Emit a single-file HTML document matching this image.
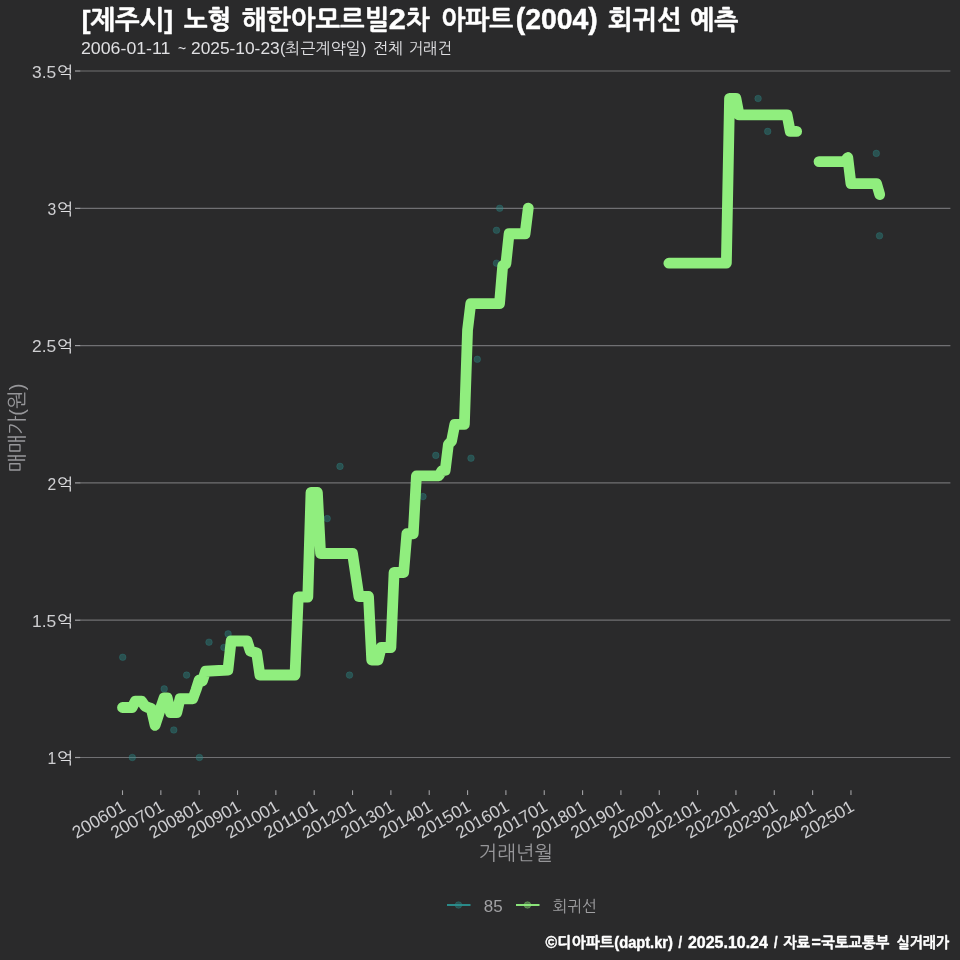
<!DOCTYPE html>
<html lang="ko"><head><meta charset="utf-8"><title>chart</title>
<style>
html,body{margin:0;padding:0;background:#2a2a2b;}
body{width:960px;height:960px;overflow:hidden;}
svg{display:block}
text{font-family:"Liberation Sans","NanumGothic","Noto Sans CJK KR",sans-serif;white-space:pre}
</style></head><body>
<svg width="960" height="960" viewBox="0 0 960 960">
<rect width="960" height="960" fill="#2a2a2b"/>

<line x1="80" x2="950.4" y1="71.00" y2="71.00" stroke="#707073" stroke-width="1.2"/>
<line x1="75" x2="80.2" y1="71.00" y2="71.00" stroke="#a0a0a3" stroke-width="1.2"/>
<line x1="80" x2="950.4" y1="208.35" y2="208.35" stroke="#707073" stroke-width="1.2"/>
<line x1="75" x2="80.2" y1="208.35" y2="208.35" stroke="#a0a0a3" stroke-width="1.2"/>
<line x1="80" x2="950.4" y1="345.60" y2="345.60" stroke="#707073" stroke-width="1.2"/>
<line x1="75" x2="80.2" y1="345.60" y2="345.60" stroke="#a0a0a3" stroke-width="1.2"/>
<line x1="80" x2="950.4" y1="482.90" y2="482.90" stroke="#707073" stroke-width="1.2"/>
<line x1="75" x2="80.2" y1="482.90" y2="482.90" stroke="#a0a0a3" stroke-width="1.2"/>
<line x1="80" x2="950.4" y1="620.20" y2="620.20" stroke="#707073" stroke-width="1.2"/>
<line x1="75" x2="80.2" y1="620.20" y2="620.20" stroke="#a0a0a3" stroke-width="1.2"/>
<line x1="80" x2="950.4" y1="757.50" y2="757.50" stroke="#707073" stroke-width="1.2"/>
<line x1="75" x2="80.2" y1="757.50" y2="757.50" stroke="#a0a0a3" stroke-width="1.2"/>
<line x1="122.50" x2="122.50" y1="790.3" y2="795" stroke="#a0a0a3" stroke-width="1.1"/>
<text transform="translate(127.00,809.8) rotate(-30)" text-anchor="end" font-size="17.4" fill="#e0e0e3" fill-opacity="0.9" textLength="58.2" lengthAdjust="spacingAndGlyphs">200601</text>
<line x1="160.84" x2="160.84" y1="790.3" y2="795" stroke="#a0a0a3" stroke-width="1.1"/>
<text transform="translate(165.34,809.8) rotate(-30)" text-anchor="end" font-size="17.4" fill="#e0e0e3" fill-opacity="0.9" textLength="58.2" lengthAdjust="spacingAndGlyphs">200701</text>
<line x1="199.18" x2="199.18" y1="790.3" y2="795" stroke="#a0a0a3" stroke-width="1.1"/>
<text transform="translate(203.68,809.8) rotate(-30)" text-anchor="end" font-size="17.4" fill="#e0e0e3" fill-opacity="0.9" textLength="58.2" lengthAdjust="spacingAndGlyphs">200801</text>
<line x1="237.52" x2="237.52" y1="790.3" y2="795" stroke="#a0a0a3" stroke-width="1.1"/>
<text transform="translate(242.02,809.8) rotate(-30)" text-anchor="end" font-size="17.4" fill="#e0e0e3" fill-opacity="0.9" textLength="58.2" lengthAdjust="spacingAndGlyphs">200901</text>
<line x1="275.86" x2="275.86" y1="790.3" y2="795" stroke="#a0a0a3" stroke-width="1.1"/>
<text transform="translate(280.36,809.8) rotate(-30)" text-anchor="end" font-size="17.4" fill="#e0e0e3" fill-opacity="0.9" textLength="58.2" lengthAdjust="spacingAndGlyphs">201001</text>
<line x1="314.20" x2="314.20" y1="790.3" y2="795" stroke="#a0a0a3" stroke-width="1.1"/>
<text transform="translate(318.70,809.8) rotate(-30)" text-anchor="end" font-size="17.4" fill="#e0e0e3" fill-opacity="0.9" textLength="58.2" lengthAdjust="spacingAndGlyphs">201101</text>
<line x1="352.54" x2="352.54" y1="790.3" y2="795" stroke="#a0a0a3" stroke-width="1.1"/>
<text transform="translate(357.04,809.8) rotate(-30)" text-anchor="end" font-size="17.4" fill="#e0e0e3" fill-opacity="0.9" textLength="58.2" lengthAdjust="spacingAndGlyphs">201201</text>
<line x1="390.88" x2="390.88" y1="790.3" y2="795" stroke="#a0a0a3" stroke-width="1.1"/>
<text transform="translate(395.38,809.8) rotate(-30)" text-anchor="end" font-size="17.4" fill="#e0e0e3" fill-opacity="0.9" textLength="58.2" lengthAdjust="spacingAndGlyphs">201301</text>
<line x1="429.22" x2="429.22" y1="790.3" y2="795" stroke="#a0a0a3" stroke-width="1.1"/>
<text transform="translate(433.72,809.8) rotate(-30)" text-anchor="end" font-size="17.4" fill="#e0e0e3" fill-opacity="0.9" textLength="58.2" lengthAdjust="spacingAndGlyphs">201401</text>
<line x1="467.56" x2="467.56" y1="790.3" y2="795" stroke="#a0a0a3" stroke-width="1.1"/>
<text transform="translate(472.06,809.8) rotate(-30)" text-anchor="end" font-size="17.4" fill="#e0e0e3" fill-opacity="0.9" textLength="58.2" lengthAdjust="spacingAndGlyphs">201501</text>
<line x1="505.90" x2="505.90" y1="790.3" y2="795" stroke="#a0a0a3" stroke-width="1.1"/>
<text transform="translate(510.40,809.8) rotate(-30)" text-anchor="end" font-size="17.4" fill="#e0e0e3" fill-opacity="0.9" textLength="58.2" lengthAdjust="spacingAndGlyphs">201601</text>
<line x1="544.24" x2="544.24" y1="790.3" y2="795" stroke="#a0a0a3" stroke-width="1.1"/>
<text transform="translate(548.74,809.8) rotate(-30)" text-anchor="end" font-size="17.4" fill="#e0e0e3" fill-opacity="0.9" textLength="58.2" lengthAdjust="spacingAndGlyphs">201701</text>
<line x1="582.58" x2="582.58" y1="790.3" y2="795" stroke="#a0a0a3" stroke-width="1.1"/>
<text transform="translate(587.08,809.8) rotate(-30)" text-anchor="end" font-size="17.4" fill="#e0e0e3" fill-opacity="0.9" textLength="58.2" lengthAdjust="spacingAndGlyphs">201801</text>
<line x1="620.92" x2="620.92" y1="790.3" y2="795" stroke="#a0a0a3" stroke-width="1.1"/>
<text transform="translate(625.42,809.8) rotate(-30)" text-anchor="end" font-size="17.4" fill="#e0e0e3" fill-opacity="0.9" textLength="58.2" lengthAdjust="spacingAndGlyphs">201901</text>
<line x1="659.26" x2="659.26" y1="790.3" y2="795" stroke="#a0a0a3" stroke-width="1.1"/>
<text transform="translate(663.76,809.8) rotate(-30)" text-anchor="end" font-size="17.4" fill="#e0e0e3" fill-opacity="0.9" textLength="58.2" lengthAdjust="spacingAndGlyphs">202001</text>
<line x1="697.60" x2="697.60" y1="790.3" y2="795" stroke="#a0a0a3" stroke-width="1.1"/>
<text transform="translate(702.10,809.8) rotate(-30)" text-anchor="end" font-size="17.4" fill="#e0e0e3" fill-opacity="0.9" textLength="58.2" lengthAdjust="spacingAndGlyphs">202101</text>
<line x1="735.94" x2="735.94" y1="790.3" y2="795" stroke="#a0a0a3" stroke-width="1.1"/>
<text transform="translate(740.44,809.8) rotate(-30)" text-anchor="end" font-size="17.4" fill="#e0e0e3" fill-opacity="0.9" textLength="58.2" lengthAdjust="spacingAndGlyphs">202201</text>
<line x1="774.28" x2="774.28" y1="790.3" y2="795" stroke="#a0a0a3" stroke-width="1.1"/>
<text transform="translate(778.78,809.8) rotate(-30)" text-anchor="end" font-size="17.4" fill="#e0e0e3" fill-opacity="0.9" textLength="58.2" lengthAdjust="spacingAndGlyphs">202301</text>
<line x1="812.62" x2="812.62" y1="790.3" y2="795" stroke="#a0a0a3" stroke-width="1.1"/>
<text transform="translate(817.12,809.8) rotate(-30)" text-anchor="end" font-size="17.4" fill="#e0e0e3" fill-opacity="0.9" textLength="58.2" lengthAdjust="spacingAndGlyphs">202401</text>
<line x1="850.96" x2="850.96" y1="790.3" y2="795" stroke="#a0a0a3" stroke-width="1.1"/>
<text transform="translate(855.46,809.8) rotate(-30)" text-anchor="end" font-size="17.4" fill="#e0e0e3" fill-opacity="0.9" textLength="58.2" lengthAdjust="spacingAndGlyphs">202501</text>
<circle cx="122.7" cy="657.3" r="3.3" fill="#2b908f" fill-opacity="0.38" stroke="#2b908f" stroke-opacity="0.3" stroke-width="0.9"/>
<circle cx="132.3" cy="757.5" r="3.3" fill="#2b908f" fill-opacity="0.38" stroke="#2b908f" stroke-opacity="0.3" stroke-width="0.9"/>
<circle cx="164.2" cy="688.9" r="3.3" fill="#2b908f" fill-opacity="0.38" stroke="#2b908f" stroke-opacity="0.3" stroke-width="0.9"/>
<circle cx="173.8" cy="730.0" r="3.3" fill="#2b908f" fill-opacity="0.38" stroke="#2b908f" stroke-opacity="0.3" stroke-width="0.9"/>
<circle cx="186.6" cy="675.1" r="3.3" fill="#2b908f" fill-opacity="0.38" stroke="#2b908f" stroke-opacity="0.3" stroke-width="0.9"/>
<circle cx="199.4" cy="757.5" r="3.3" fill="#2b908f" fill-opacity="0.38" stroke="#2b908f" stroke-opacity="0.3" stroke-width="0.9"/>
<circle cx="209.0" cy="642.2" r="3.3" fill="#2b908f" fill-opacity="0.38" stroke="#2b908f" stroke-opacity="0.3" stroke-width="0.9"/>
<circle cx="223.9" cy="647.5" r="3.3" fill="#2b908f" fill-opacity="0.38" stroke="#2b908f" stroke-opacity="0.3" stroke-width="0.9"/>
<circle cx="228.1" cy="633.9" r="3.3" fill="#2b908f" fill-opacity="0.38" stroke="#2b908f" stroke-opacity="0.3" stroke-width="0.9"/>
<circle cx="349.5" cy="675.1" r="3.3" fill="#2b908f" fill-opacity="0.38" stroke="#2b908f" stroke-opacity="0.3" stroke-width="0.9"/>
<circle cx="340.0" cy="466.4" r="3.3" fill="#2b908f" fill-opacity="0.38" stroke="#2b908f" stroke-opacity="0.3" stroke-width="0.9"/>
<circle cx="327.2" cy="518.6" r="3.3" fill="#2b908f" fill-opacity="0.38" stroke="#2b908f" stroke-opacity="0.3" stroke-width="0.9"/>
<circle cx="423.0" cy="496.6" r="3.3" fill="#2b908f" fill-opacity="0.38" stroke="#2b908f" stroke-opacity="0.3" stroke-width="0.9"/>
<circle cx="435.8" cy="455.4" r="3.3" fill="#2b908f" fill-opacity="0.38" stroke="#2b908f" stroke-opacity="0.3" stroke-width="0.9"/>
<circle cx="471.0" cy="458.2" r="3.3" fill="#2b908f" fill-opacity="0.38" stroke="#2b908f" stroke-opacity="0.3" stroke-width="0.9"/>
<circle cx="477.3" cy="359.3" r="3.3" fill="#2b908f" fill-opacity="0.38" stroke="#2b908f" stroke-opacity="0.3" stroke-width="0.9"/>
<circle cx="496.5" cy="263.2" r="3.3" fill="#2b908f" fill-opacity="0.38" stroke="#2b908f" stroke-opacity="0.3" stroke-width="0.9"/>
<circle cx="496.5" cy="230.3" r="3.3" fill="#2b908f" fill-opacity="0.38" stroke="#2b908f" stroke-opacity="0.3" stroke-width="0.9"/>
<circle cx="499.7" cy="208.3" r="3.3" fill="#2b908f" fill-opacity="0.38" stroke="#2b908f" stroke-opacity="0.3" stroke-width="0.9"/>
<circle cx="758.1" cy="98.5" r="3.3" fill="#2b908f" fill-opacity="0.38" stroke="#2b908f" stroke-opacity="0.3" stroke-width="0.9"/>
<circle cx="767.7" cy="131.4" r="3.3" fill="#2b908f" fill-opacity="0.38" stroke="#2b908f" stroke-opacity="0.3" stroke-width="0.9"/>
<circle cx="876.3" cy="153.4" r="3.3" fill="#2b908f" fill-opacity="0.38" stroke="#2b908f" stroke-opacity="0.3" stroke-width="0.9"/>
<circle cx="879.5" cy="235.8" r="3.3" fill="#2b908f" fill-opacity="0.38" stroke="#2b908f" stroke-opacity="0.3" stroke-width="0.9"/>
<path d="M122.50,707.50 L132.09,707.50 L135.28,701.25 L141.67,701.25 L144.87,706.00 L148.06,707.50 L151.25,708.50 L155.09,725.40 L157.64,717.50 L160.84,707.50 L164.03,697.90 L167.23,697.90 L170.43,712.50 L176.81,712.50 L180.01,698.75 L192.79,698.75 L195.99,690.00 L199.18,680.00 L202.38,681.00 L205.57,671.25 L227.94,670.00 L231.13,641.00 L247.10,641.00 L250.30,651.00 L256.69,653.00 L259.88,675.00 L295.03,675.00 L298.23,597.00 L307.81,597.00 L311.00,492.50 L317.39,492.50 L320.59,553.50 L352.54,553.50 L358.93,596.50 L368.51,596.50 L371.71,660.00 L378.10,660.00 L381.29,647.50 L390.88,647.50 L394.07,572.50 L403.66,572.50 L406.85,533.75 L413.25,533.75 L416.44,475.80 L438.81,475.80 L442.00,470.60 L445.19,470.40 L448.39,444.40 L451.58,441.00 L454.78,424.40 L464.37,424.40 L467.56,330.00 L470.75,303.70 L499.51,303.70 L502.70,265.60 L505.90,263.75 L509.09,233.75 L525.07,233.75 L528.26,208.10" fill="none" stroke="#90ee7e" stroke-width="10.8" stroke-linejoin="round" stroke-linecap="round"/>
<path d="M668.85,263.22 L726.36,263.22 L729.55,98.46 L735.94,98.46 L739.13,114.94 L787.06,114.94 L790.25,131.41 L796.64,131.41" fill="none" stroke="#90ee7e" stroke-width="10.8" stroke-linejoin="round" stroke-linecap="round"/>
<path d="M819.01,161.62 L844.57,161.62 L847.76,157.50 L850.96,183.59 L876.52,183.59 L879.71,194.57" fill="none" stroke="#90ee7e" stroke-width="10.8" stroke-linejoin="round" stroke-linecap="round"/>
<text x="81.76" y="29.00" font-size="26.4" font-weight="bold" fill="#ffffff" textLength="91.27" lengthAdjust="spacingAndGlyphs" stroke="#ffffff" stroke-width="0.45">[제주시]</text>
<text x="184.00" y="29.00" font-size="26.4" font-weight="bold" fill="#ffffff" textLength="47.17" lengthAdjust="spacingAndGlyphs" stroke="#ffffff" stroke-width="0.45">노형</text>
<text x="241.75" y="29.00" font-size="26.4" font-weight="bold" fill="#ffffff" textLength="147.29" lengthAdjust="spacingAndGlyphs" stroke="#ffffff" stroke-width="0.45">해한아모르빌</text>
<text x="388.68" y="29.00" font-size="28.72" font-weight="bold" fill="#ffffff" textLength="17.11" lengthAdjust="spacingAndGlyphs" stroke="#ffffff" stroke-width="0.45">2</text>
<text x="406.00" y="29.00" font-size="26.4" font-weight="bold" fill="#ffffff" textLength="23.57" lengthAdjust="spacingAndGlyphs" stroke="#ffffff" stroke-width="0.45">차</text>
<text x="441.28" y="29.00" font-size="26.4" font-weight="bold" fill="#ffffff" textLength="72.03" lengthAdjust="spacingAndGlyphs" stroke="#ffffff" stroke-width="0.45">아파트</text>
<text x="515.76" y="29.00" font-size="28.72" font-weight="bold" fill="#ffffff" textLength="82.05" lengthAdjust="spacingAndGlyphs" stroke="#ffffff" stroke-width="0.45">(2004)</text>
<text x="608.00" y="29.00" font-size="26.4" font-weight="bold" fill="#ffffff" textLength="73.54" lengthAdjust="spacingAndGlyphs" stroke="#ffffff" stroke-width="0.45">회귀선</text>
<text x="690.03" y="29.00" font-size="26.4" font-weight="bold" fill="#ffffff" textLength="48.29" lengthAdjust="spacingAndGlyphs" stroke="#ffffff" stroke-width="0.45">예측</text>
<text x="81.00" y="54.00" font-size="17.41" font-weight="normal" fill="#e0e0e3" textLength="89.44" lengthAdjust="spacingAndGlyphs">2006-01-11</text>
<text x="178.00" y="54.00" font-size="17.41" font-weight="normal" fill="#e0e0e3" textLength="8.12" lengthAdjust="spacingAndGlyphs">~</text>
<text x="191.00" y="54.00" font-size="17.41" font-weight="normal" fill="#e0e0e3" textLength="88.67" lengthAdjust="spacingAndGlyphs">2025-10-23</text>
<text x="280.00" y="54.00" font-size="15.8" font-weight="normal" fill="#e0e0e3" textLength="86.27" lengthAdjust="spacingAndGlyphs">(최근계약일)</text>
<text x="372.99" y="54.00" font-size="15.8" font-weight="normal" fill="#e0e0e3" textLength="30.13" lengthAdjust="spacingAndGlyphs">전체</text>
<text x="408.78" y="54.00" font-size="15.8" font-weight="normal" fill="#e0e0e3" textLength="43.04" lengthAdjust="spacingAndGlyphs">거래건</text>
<text x="545.60" y="948.30" font-size="16.54" font-weight="bold" fill="#ffffff" textLength="11.56" lengthAdjust="spacingAndGlyphs" stroke="#ffffff" stroke-width="0.45">©</text>
<text x="557.61" y="948.30" font-size="15.2" font-weight="bold" fill="#ffffff" textLength="56.26" lengthAdjust="spacingAndGlyphs" stroke="#ffffff" stroke-width="0.45">디아파트</text>
<text x="614.30" y="948.30" font-size="16.54" font-weight="bold" fill="#ffffff" textLength="58.64" lengthAdjust="spacingAndGlyphs" stroke="#ffffff" stroke-width="0.45">(dapt.kr)</text>
<text x="678.50" y="948.30" font-size="16.54" font-weight="bold" fill="#ffffff" textLength="3.58" lengthAdjust="spacingAndGlyphs" stroke="#ffffff" stroke-width="0.45">/</text>
<text x="688.00" y="948.30" font-size="16.54" font-weight="bold" fill="#ffffff" textLength="79.81" lengthAdjust="spacingAndGlyphs" stroke="#ffffff" stroke-width="0.45">2025.10.24</text>
<text x="773.90" y="948.30" font-size="16.54" font-weight="bold" fill="#ffffff" textLength="3.58" lengthAdjust="spacingAndGlyphs" stroke="#ffffff" stroke-width="0.45">/</text>
<text x="783.50" y="948.30" font-size="15.2" font-weight="bold" fill="#ffffff" textLength="26.66" lengthAdjust="spacingAndGlyphs" stroke="#ffffff" stroke-width="0.45">자료</text>
<text x="811.50" y="948.30" font-size="16.54" font-weight="bold" fill="#ffffff" textLength="9.32" lengthAdjust="spacingAndGlyphs" stroke="#ffffff" stroke-width="0.45">=</text>
<text x="821.30" y="948.30" font-size="15.2" font-weight="bold" fill="#ffffff" textLength="67.96" lengthAdjust="spacingAndGlyphs" stroke="#ffffff" stroke-width="0.45">국토교통부</text>
<text x="896.50" y="948.30" font-size="15.2" font-weight="bold" fill="#ffffff" textLength="52.53" lengthAdjust="spacingAndGlyphs" stroke="#ffffff" stroke-width="0.45">실거래가</text>
<text x="478.51" y="860.00" font-size="20" font-weight="normal" fill="#97979a" textLength="74.52" lengthAdjust="spacingAndGlyphs">거래년월</text>
<text x="483.75" y="911.50" font-size="17.41" font-weight="normal" fill="#a0a0a3" textLength="18.91" lengthAdjust="spacingAndGlyphs">85</text>
<text x="552.50" y="911.50" font-size="16" font-weight="normal" fill="#a0a0a3" textLength="44.27" lengthAdjust="spacingAndGlyphs">회귀선</text>
<text x="57.02" y="77.60" font-size="16" font-weight="normal" fill="#e0e0e3" textLength="16.17" lengthAdjust="spacingAndGlyphs">억</text>
<text x="57.02" y="214.95" font-size="16" font-weight="normal" fill="#e0e0e3" textLength="16.17" lengthAdjust="spacingAndGlyphs">억</text>
<text x="57.02" y="352.20" font-size="16" font-weight="normal" fill="#e0e0e3" textLength="16.17" lengthAdjust="spacingAndGlyphs">억</text>
<text x="57.02" y="489.50" font-size="16" font-weight="normal" fill="#e0e0e3" textLength="16.17" lengthAdjust="spacingAndGlyphs">억</text>
<text x="57.02" y="626.80" font-size="16" font-weight="normal" fill="#e0e0e3" textLength="16.17" lengthAdjust="spacingAndGlyphs">억</text>
<text x="57.02" y="764.10" font-size="16" font-weight="normal" fill="#e0e0e3" textLength="16.17" lengthAdjust="spacingAndGlyphs">억</text>
<text x="56.2" y="77.6" text-anchor="end" font-size="17.4" fill="#e0e0e3" fill-opacity="0.9" textLength="24.2" lengthAdjust="spacingAndGlyphs">3.5</text>
<text x="56.2" y="214.9" text-anchor="end" font-size="17.4" fill="#e0e0e3" fill-opacity="0.9" textLength="8.7" lengthAdjust="spacingAndGlyphs">3</text>
<text x="56.2" y="352.2" text-anchor="end" font-size="17.4" fill="#e0e0e3" fill-opacity="0.9" textLength="24.2" lengthAdjust="spacingAndGlyphs">2.5</text>
<text x="56.2" y="489.5" text-anchor="end" font-size="17.4" fill="#e0e0e3" fill-opacity="0.9" textLength="8.7" lengthAdjust="spacingAndGlyphs">2</text>
<text x="56.2" y="626.8" text-anchor="end" font-size="17.4" fill="#e0e0e3" fill-opacity="0.9" textLength="24.2" lengthAdjust="spacingAndGlyphs">1.5</text>
<text x="56.2" y="764.1" text-anchor="end" font-size="17.4" fill="#e0e0e3" fill-opacity="0.9" textLength="8.7" lengthAdjust="spacingAndGlyphs">1</text>
<text transform="translate(23.6,427.9) rotate(-90)" text-anchor="middle" font-size="20" fill="#97979a">매매가(원)</text>
<circle cx="458.5" cy="905" r="3.3" fill="#2b908f" fill-opacity="0.4" stroke="#2b908f" stroke-opacity="0.35" stroke-width="0.9"/><line x1="447" x2="470.5" y1="905" y2="905" stroke="#2b908f" stroke-width="1.9"/>
<circle cx="527.5" cy="905" r="3.3" fill="#90ee7e" fill-opacity="0.4" stroke="#90ee7e" stroke-opacity="0.35" stroke-width="0.9"/><line x1="516" x2="539.5" y1="905" y2="905" stroke="#90ee7e" stroke-width="1.9"/>
</svg></body></html>
